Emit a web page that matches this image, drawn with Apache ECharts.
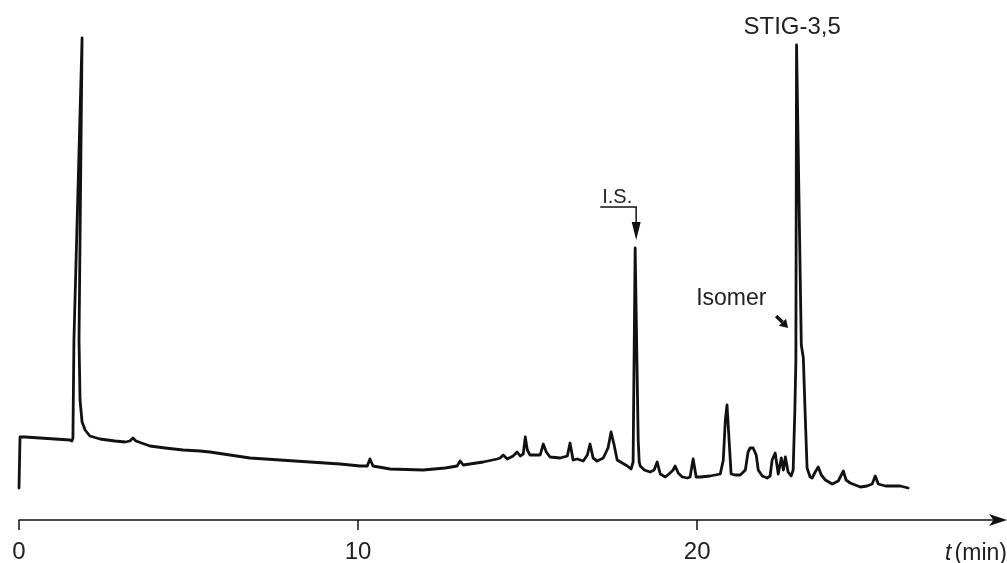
<!DOCTYPE html>
<html>
<head>
<meta charset="utf-8">
<title>Chromatogram</title>
<script src="https://cdn.jsdelivr.net/npm/echarts@6/dist/echarts.min.js"></script>
<style>
	html, body { margin: 0; padding: 0; background: #fff; }
	#chart { width: 1007px; height: 563px; }
</style>
</head>
<body>
<div id="chart"></div>
<script>
// retention time (min), detector response (arb. units)
const tickValues = [0, 10, 20];

// injection + solvent peak
const frontTrace = [
	[0.00, 32], [0.03, 83], [0.18, 83], [0.62, 82], [1.06, 81], [1.50, 80], [1.56, 79],
	[1.59, 82], [1.62, 180], [1.86, 482], [1.77, 180], [1.80, 120], [1.86, 98], [1.95, 90],
	[2.09, 84], [2.39, 81], [2.60, 80], [2.83, 79], [3.13, 78], [3.27, 79], [3.36, 82],
	[3.45, 79], [3.86, 74], [4.31, 72], [4.84, 70], [5.34, 69], [5.63, 68], [6.22, 65],
	[6.81, 62], [7.70, 60], [8.58, 58], [9.47, 56], [10.06, 54], [10.27, 54], [10.35, 61],
	[10.44, 54], [10.94, 51], [11.92, 50], [12.57, 52], [12.92, 54], [13.01, 59], [13.10, 55]
];

// matrix peaks + I.S.
const midTrace = [
	[13.69, 58], [14.10, 61], [14.19, 62], [14.28, 65], [14.40, 61], [14.57, 64], [14.69, 68],
	[14.78, 64], [14.87, 66], [14.93, 83], [14.99, 70], [15.07, 65], [15.37, 65], [15.46, 76],
	[15.55, 68], [15.66, 63], [15.96, 62], [16.17, 64], [16.25, 77], [16.34, 60], [16.46, 61],
	[16.64, 59], [16.76, 65], [16.84, 76], [16.93, 62], [17.05, 59], [17.23, 62], [17.37, 72],
	[17.46, 88], [17.55, 75], [17.64, 60], [17.79, 57], [17.94, 54], [18.05, 51], [18.11, 58],
	[18.17, 272], [18.26, 80], [18.29, 58], [18.32, 54], [18.44, 50], [18.61, 48], [18.73, 50],
	[18.82, 58], [18.91, 46], [19.06, 43], [19.20, 47], [19.29, 50], [19.35, 54], [19.44, 47],
	[19.56, 43], [19.71, 42], [19.79, 43], [19.88, 61], [19.97, 43], [20.09, 43], [20.38, 44]
];

// isomer + STIG-3,5 and tail
const lateTrace = [
	[20.68, 46], [20.77, 60], [20.83, 100], [20.88, 115], [20.94, 80], [21.00, 46], [21.12, 45],
	[21.27, 45], [21.42, 50], [21.50, 68], [21.56, 72], [21.65, 72], [21.74, 65], [21.80, 50],
	[21.92, 44], [22.06, 42], [22.15, 44], [22.21, 60], [22.30, 67], [22.39, 46], [22.48, 62],
	[22.54, 50], [22.60, 63], [22.68, 48], [22.77, 44], [22.83, 50], [22.88, 110], [22.91, 160],
	[22.93, 475], [23.07, 175], [23.13, 162], [23.19, 100], [23.24, 52], [23.33, 43], [23.39, 42],
	[23.48, 48], [23.57, 53], [23.66, 45], [23.78, 40], [23.98, 36], [24.16, 39], [24.31, 49],
	[24.39, 40], [24.51, 37], [24.81, 33], [25.01, 34], [25.16, 36], [25.25, 44], [25.34, 36],
	[25.55, 34], [25.78, 34], [25.99, 34], [26.22, 32]
];

// labels, placed in data coordinates
const stigLabel = { text: 'STIG-3,5', at: [22.80, 493] };
const isomerLabel = { text: 'Isomer', at: [19.97, 221] };
const isomerArrow = [[22.33, 204], [22.68, 192]];
const isLabel = { text: 'I.S.', at: [17.20, 323] };
const isBracket = [[17.14, 313], [18.20, 313], [18.20, 280]];

const FONT = '"Liberation Sans", Arial, Helvetica, sans-serif';
const INK = '#111';

const chart = echarts.init(document.getElementById('chart'));

chart.setOption({
	animation: false,
	grid: { left: 19, right: 8, top: 0, bottom: 43, outerBoundsMode: 'none' },
	xAxis: {
		type: 'value',
		min: 0,
		max: 28.9,
		axisLine: {
			symbol: ['none', 'arrow'],
			symbolSize: [9, 18],
			symbolOffset: [0, 8],
			lineStyle: { color: INK, width: 1.5 }
		},
		axisTick: { customValues: tickValues, length: 10, lineStyle: { color: INK, width: 1.5 } },
		axisLabel: { customValues: tickValues, margin: 20, fontSize: 24, color: '#222', fontFamily: FONT },
		splitLine: { show: false },
		name: '{i|t} {n|(min)}',
		nameLocation: 'end',
		nameGap: 8,
		nameTextStyle: {
			align: 'right',
			verticalAlign: 'top',
			padding: [22, 0, 0, 0],
			rich: {
				i: { fontStyle: 'italic', fontSize: 23, fontFamily: FONT, color: '#222' },
				n: { fontSize: 23, fontFamily: FONT, color: '#222' }
			}
		}
	},
	yAxis: { type: 'value', min: 0, max: 520, show: false },
	series: [{
		type: 'line',
		data: frontTrace.concat(midTrace, lateTrace),
		symbol: 'none',
		lineStyle: { color: INK, width: 2.8, join: 'round', cap: 'round' }
	}]
});

function px(p) {
	return chart.convertToPixel({ gridIndex: 0 }, p);
}

// small filled arrowhead at tip, pointing from -> tip
function arrowHead(from, tip, len, half) {
	let dx = tip[0] - from[0], dy = tip[1] - from[1];
	let d = Math.sqrt(dx * dx + dy * dy);
	dx /= d; dy /= d;
	let bx = tip[0] - dx * len, by = tip[1] - dy * len;
	return {
		base: [bx, by],
		points: [tip, [bx - dy * half, by + dx * half], [bx + dy * half, by - dx * half]]
	};
}

let bracket = isBracket.map(px);
let isHead = arrowHead(bracket[1], bracket[2], 18, 4.5);
let isoFrom = px(isomerArrow[0]), isoTip = px(isomerArrow[1]);
let isoHead = arrowHead(isoFrom, isoTip, 8, 5);

let stigPos = px(stigLabel.at), isoPos = px(isomerLabel.at), isPos = px(isLabel.at);

chart.setOption({
	graphic: [
		{
			type: 'text', x: stigPos[0], y: stigPos[1],
			style: { text: stigLabel.text, fontSize: 24, fontFamily: FONT, fill: '#222', align: 'center', verticalAlign: 'middle' }
		},
		{
			type: 'text', x: isoPos[0], y: isoPos[1],
			style: { text: isomerLabel.text, fontSize: 23, fontFamily: FONT, fill: '#222', align: 'left', verticalAlign: 'middle' }
		},
		{
			type: 'text', x: isPos[0], y: isPos[1],
			style: { text: isLabel.text, fontSize: 20, fontFamily: FONT, fill: '#222', align: 'left', verticalAlign: 'middle' }
		},
		{
			type: 'polyline',
			shape: { points: [bracket[0], bracket[1], isHead.base] },
			style: { stroke: INK, lineWidth: 1.5, fill: null }
		},
		{ type: 'polygon', shape: { points: isHead.points }, style: { fill: INK } },
		{
			type: 'line',
			shape: { x1: isoFrom[0], y1: isoFrom[1], x2: isoHead.base[0], y2: isoHead.base[1] },
			style: { stroke: INK, lineWidth: 3.5 }
		},
		{ type: 'polygon', shape: { points: isoHead.points }, style: { fill: INK } }
	]
});
</script>
</body>
</html>
